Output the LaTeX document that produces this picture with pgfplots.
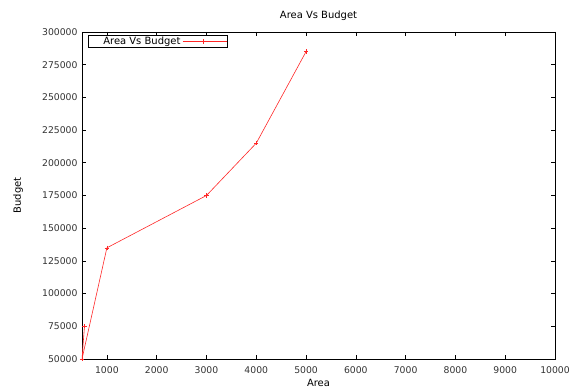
\documentclass[border=0pt]{standalone}
\usepackage{pgfplots}
\pgfplotsset{compat=1.18}
\usepackage{fontspec}
\setmainfont{DejaVu Sans}

\begin{document}
\begin{tikzpicture}
\useasboundingbox (-82bp,-32bp) rectangle (498bp,359bp);
\begin{axis}[
  at={(0,0)}, anchor=south west,
  scale only axis,
  width=473bp, height=327bp,
  xmin=500, xmax=10000,
  ymin=50000, ymax=300000,
  xtick={1000,2000,...,10000},
  ytick={50000,75000,...,300000},
  scaled x ticks=false, scaled y ticks=false,
  /pgf/number format/fixed,
  /pgf/number format/precision=0,
  /pgf/number format/1000 sep={},
  /pgf/number format/assume math mode=true,
  tick align=inside,
  major tick length=4bp,
  tick style={black, line width=0.6pt},
  axis line style={black, line width=0.8pt},
  ticklabel style={font=\fontsize{9.3}{10}\selectfont, text=black!80},
  xticklabel style={yshift=-4bp},
  yticklabel style={xshift=-1bp},
  title={Area Vs Budget},
  title style={at={(axis description cs:0.5,1.031)}, anchor=center, yshift=0pt,
               font=\fontsize{10}{11}\selectfont},
  xlabel={Area},
  xlabel style={at={(axis description cs:0.5,-0.074)}, anchor=center, yshift=0pt,
                font=\fontsize{10}{11}\selectfont},
  ylabel={Budget},
  ylabel style={at={(axis description cs:-0.135,0.5)}, anchor=center, xshift=0pt, yshift=0pt,
                font=\fontsize{10}{11}\selectfont},
  legend plot pos=right,
  legend style={at={(0.0127,0.99)}, anchor=north west,
                draw=black, line width=0.7pt,
                inner xsep=0pt, inner ysep=0.5bp,
                column sep=2bp, row sep=0pt,
                font=\fontsize{10}{11}\selectfont,
                nodes={inner xsep=0pt, inner ysep=1bp, text height=7bp, text depth=2bp}},
  legend image code/.code={
    \draw[#1] (0bp,0bp) -- (36bp,0bp);
    \draw[#1, mark repeat=1] plot coordinates {(21bp,0bp)};
    \path (0bp,0bp) -- (44bp,0bp);
  },
]
\addplot[red!85!white, line width=0.6pt, mark=+, mark size=2.2bp,
         mark options={line width=0.6pt}]
  coordinates {
    (550,75000)
    (500,50000)
    (1000,135000)
    (3000,175000)
    (4000,215000)
    (5000,285000)
  };
\addlegendentry{\hspace*{15bp}Area Vs Budget}
\end{axis}
\end{tikzpicture}
\end{document}
